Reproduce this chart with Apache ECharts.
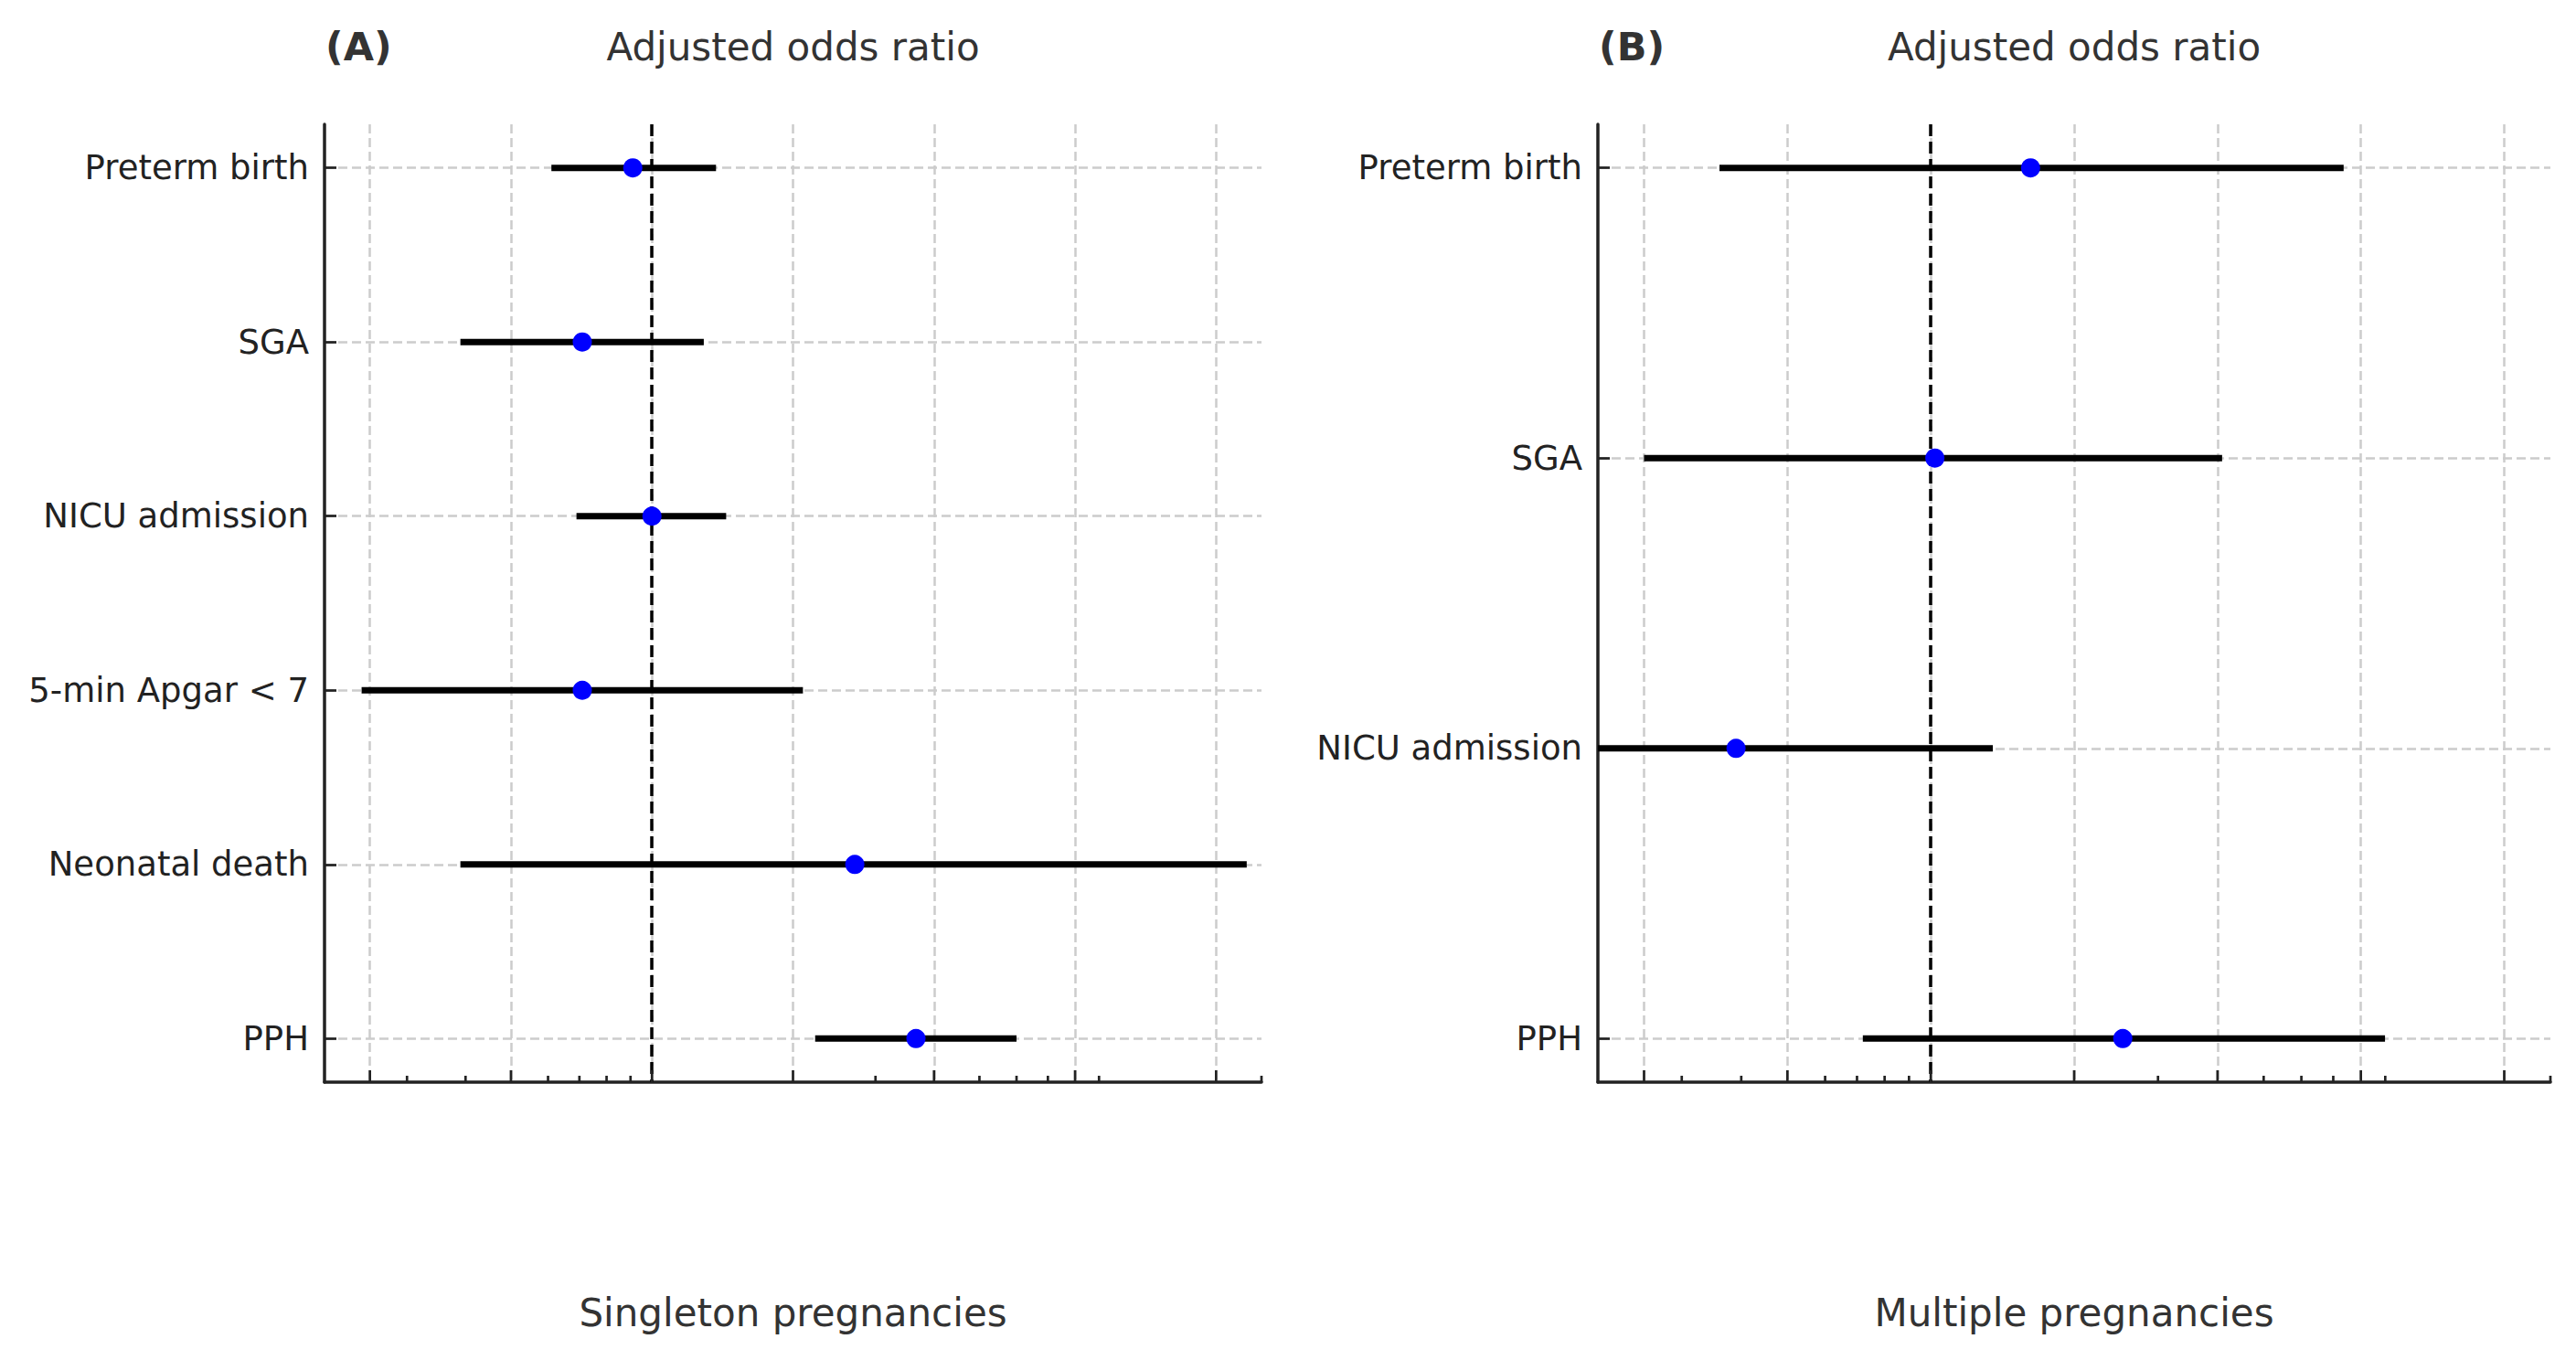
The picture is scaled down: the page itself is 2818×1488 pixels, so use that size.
<!DOCTYPE html>
<html>
<head>
<meta charset="utf-8">
<script src="https://cdn.jsdelivr.net/npm/echarts@6/dist/echarts.min.js"></script>
<style>
html,body{margin:0;padding:0;background:#ffffff;}
#chart{width:2818px;height:1488px;}
</style>
</head>
<body>
<div id="chart"></div>
<script>
// ---------- data ----------
const categoriesA = ['Preterm birth', 'SGA', 'NICU admission', '5-min Apgar < 7', 'Neonatal death', 'PPH'];
const oddsA  = [0.91, 0.71, 1.00, 0.71, 2.71, 3.66];
const lowerA = [0.61, 0.39, 0.69, 0.24, 0.39, 2.23];
const upperA = [1.37, 1.29, 1.44, 2.10, 18.6, 6.00];

const categoriesB = ['Preterm birth', 'SGA', 'NICU admission', 'PPH'];
const oddsB  = [1.62, 1.02, 0.39, 2.53];
const lowerB = [0.36, 0.25, 0.20, 0.72];
const upperB = [7.36, 4.09, 1.35, 8.99];

const majorTickValues = [0.25, 0.5, 1, 2, 4, 8, 16];
const minorTickValues = [0.3, 0.4, 0.6, 0.7, 0.8, 0.9, 3, 5, 6, 7, 9, 20];
const xLimits = [0.2, 20];
const referenceValue = 1;

const panelLetters = ['(A)', '(B)'];
const topTitles = ['Adjusted odds ratio', 'Adjusted odds ratio'];
const bottomTitles = ['Singleton pregnancies', 'Multiple pregnancies'];

// ---------- layout / style ----------
const FONT = "'DejaVu Sans', 'Liberation Sans', sans-serif";
const grids = [
  {left: 355, top: 136, width: 1025, height: 1048},
  {left: 1748, top: 136, width: 1042, height: 1048}
];
const spineColor = '#222222';
const gridLine = {color: '#cccccc', width: 2.5, type: [10, 5]};

const chart = echarts.init(document.getElementById('chart'), null, {renderer: 'svg', width: 2818, height: 1488});

const xAxes = [], yAxes = [], series = [], graphics = [];

function tickSeries(i, values, len) {
  return {
    type: 'custom',
    xAxisIndex: i, yAxisIndex: i,
    silent: true,
    z: 6,
    data: values.map(v => [v, 0]),
    encode: {x: 0, y: 1},
    renderItem: function (params, api) {
      const x = api.coord([api.value(0), 0])[0];
      const cs = params.coordSys;
      const b = cs.y + cs.height;
      return {type: 'line', shape: {x1: x, y1: b, x2: x, y2: b - len},
              style: {stroke: spineColor, lineWidth: 2.7}};
    }
  };
}

function addPanel(i, cats, est, lo, hi) {
  const n = cats.length;
  const pad = 0.05 * (n - 1);
  const idx = cats.map((c, k) => k);
  xAxes.push({
    gridIndex: i, type: 'log', logBase: 2,
    min: xLimits[0], max: xLimits[1],
    axisLabel: {show: false},
    axisTick: {show: false},
    minorTick: {show: false},
    axisLine: {show: true, onZero: false, lineStyle: {color: spineColor, width: 3.5}},
    splitLine: {show: true, showMinLine: false, showMaxLine: false, lineStyle: gridLine}
  });
  yAxes.push({
    gridIndex: i, type: 'value', inverse: true,
    min: -pad, max: n - 1 + pad,
    axisLine: {show: true, onZero: false, lineStyle: {color: spineColor, width: 3.5}},
    axisTick: {show: true, inside: true, length: 13, customValues: idx,
               lineStyle: {color: spineColor, width: 2.7}},
    axisLabel: {show: true, customValues: idx, formatter: v => cats[Math.round(v)],
                fontSize: 37, color: '#222222', fontFamily: FONT, margin: 17},
    splitLine: {show: true, lineStyle: gridLine}
  });
  series.push({
    type: 'custom',
    xAxisIndex: i, yAxisIndex: i,
    z: 3,
    data: idx.map(k => [lo[k], hi[k], k]),
    encode: {x: [0, 1], y: 2},
    renderItem: function (params, api) {
      const y = api.value(2);
      const p1 = api.coord([api.value(0), y]);
      const p2 = api.coord([api.value(1), y]);
      return {type: 'line', shape: {x1: p1[0], y1: p1[1], x2: p2[0], y2: p2[1]},
              style: {stroke: '#000000', lineWidth: 7}};
    },
    markLine: {
      silent: true, symbol: ['none', 'none'],
      label: {show: false},
      lineStyle: {color: '#000000', width: 3.5, type: [13, 6]},
      data: [{xAxis: referenceValue}],
      z: 2
    }
  });
  series.push({
    type: 'scatter',
    xAxisIndex: i, yAxisIndex: i,
    z: 5,
    symbol: 'circle', symbolSize: 21,
    itemStyle: {color: '#0000ff', opacity: 1},
    data: idx.map(k => [est[k], k])
  });
  series.push(tickSeries(i, majorTickValues, 13));
  series.push(tickSeries(i, minorTickValues, 7));

  const g = grids[i];
  const cx = g.left + g.width / 2;
  graphics.push({type: 'text', x: g.left + 1, y: 51,
    style: {text: panelLetters[i], font: 'bold 43px ' + FONT, fill: '#333333',
            textAlign: 'left', textVerticalAlign: 'middle'}});
  graphics.push({type: 'text', x: cx, y: 51,
    style: {text: topTitles[i], font: '42px ' + FONT, fill: '#333333',
            textAlign: 'center', textVerticalAlign: 'middle'}});
  graphics.push({type: 'text', x: cx, y: 1436,
    style: {text: bottomTitles[i], font: '42px ' + FONT, fill: '#333333',
            textAlign: 'center', textVerticalAlign: 'middle'}});
}

addPanel(0, categoriesA, oddsA, lowerA, upperA);
addPanel(1, categoriesB, oddsB, lowerB, upperB);

chart.setOption({
  animation: false,
  backgroundColor: '#ffffff',
  grid: grids.map(g => Object.assign({containLabel: false}, g)),
  xAxis: xAxes,
  yAxis: yAxes,
  series: series,
  graphic: graphics
});
</script>
</body>
</html>
